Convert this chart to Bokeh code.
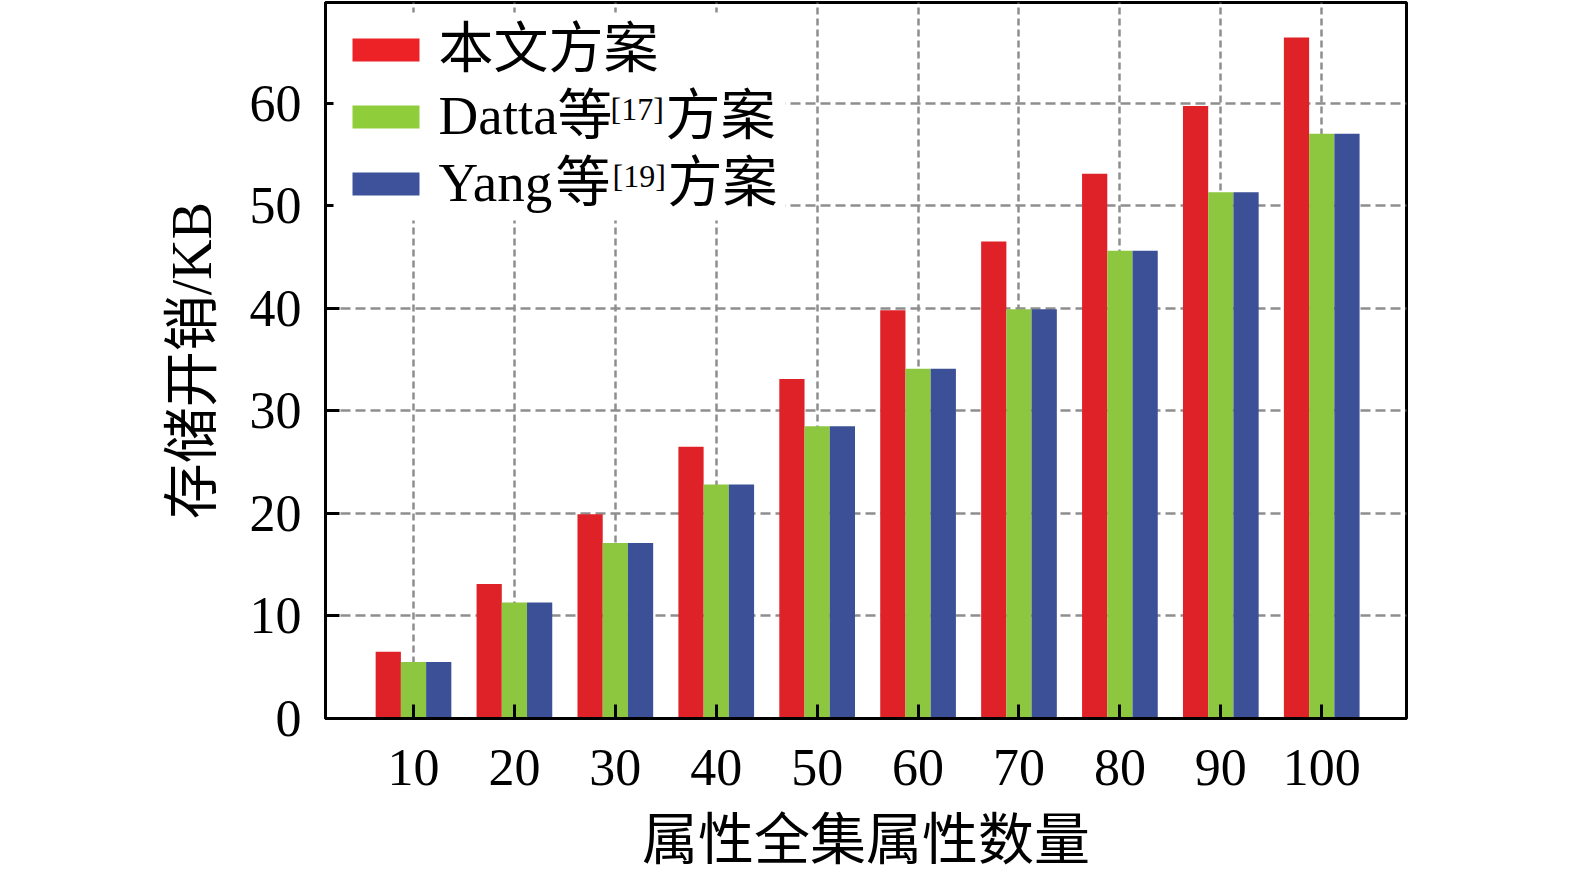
from bokeh.plotting import figure
from bokeh.models import ColumnDataSource, Range1d, FixedTicker, Label, BoxAnnotation
from bokeh.transform import dodge
from bokeh.embed import file_html
from bokeh.resources import INLINE

# ---- data ----
attr_counts = [10, 20, 30, 40, 50, 60, 70, 80, 90, 100]
ours = [6.5, 13.1, 19.9, 26.5, 33.1, 39.8, 46.5, 53.1, 59.7, 66.4]
datta = [5.5, 11.3, 17.1, 22.8, 28.5, 34.1, 39.9, 45.6, 51.3, 57.0]
yang = [5.5, 11.3, 17.1, 22.8, 28.5, 34.1, 39.9, 45.6, 51.3, 57.0]
series_latin = ["", "Datta", "Yang"]
series_cjk = ["本文方案", "等", "等"]
series_refs = ["", "[17]", "[19]"]
series_tail = ["", "方案", "方案"]
y_ticks = [0, 10, 20, 30, 40, 50, 60]
x_label = "属性全集属性数量"
y_label = "存储开销/KB"

bar_colors = ["#df2228", "#8dc63f", "#3b5097"]
swatch_colors = ["#ec2227", "#8fcd3a", "#3d529b"]

FONT = "Liberation Serif, Noto Sans CJK SC"
SERIF = "Liberation Serif"

src = ColumnDataSource(dict(x=attr_counts, ours=ours, datta=datta, yang=yang))

p = figure(frame_width=1081, frame_height=716,
           x_range=Range1d(1.28, 108.4), y_range=Range1d(0, 69.8),
           output_backend="svg", toolbar_location=None,
           min_border_left=325, min_border_top=2, min_border_right=110,
           min_border_bottom=130, background_fill_color="white",
           border_fill_color="white")

bw = 2.5
for field, off, col in zip(["ours", "datta", "yang"], [-bw, 0.0, bw], bar_colors):
    p.vbar(x=dodge("x", off), top=field, width=bw, bottom=0, source=src,
           fill_color=col, line_color=None)

# axes
p.xaxis.ticker = FixedTicker(ticks=attr_counts)
p.yaxis.ticker = FixedTicker(ticks=y_ticks)
for ax in (p.xaxis, p.yaxis):
    ax.axis_line_width = 3
    ax.axis_line_color = "black"
    ax.major_tick_in = 14
    ax.major_tick_out = 0
    ax.major_tick_line_width = 3
    ax.major_tick_line_color = "black"
    ax.minor_tick_line_color = None
    ax.major_label_text_font = SERIF
    ax.major_label_text_font_size = "52px"
    ax.major_label_text_color = "black"
    ax.axis_label_text_font = FONT
    ax.axis_label_text_font_size = "56px"
    ax.axis_label_text_font_style = "normal"
    ax.axis_label_text_color = "black"

p.xaxis.axis_label = x_label
p.yaxis.axis_label = y_label
p.xaxis.major_label_standoff = 31
p.yaxis.major_label_standoff = 24
p.xaxis.axis_label_standoff = 21
p.yaxis.axis_label_standoff = 24

p.outline_line_color = "black"
p.outline_line_width = 3
p.outline_line_alpha = 1

p.xgrid.grid_line_color = "#8e8e8e"
p.xgrid.grid_line_width = 2.5
p.xgrid.grid_line_dash = "7 4"
p.ygrid.grid_line_color = "#8e8e8e"
p.ygrid.grid_line_width = 2.5
p.ygrid.grid_line_dash = "10 5"

# legend (manual, to allow superscript references)
p.add_layout(BoxAnnotation(left=8, right=460, bottom=498, top=706,
                           left_units="screen", right_units="screen",
                           bottom_units="screen", top_units="screen",
                           fill_color="white", fill_alpha=1.0, line_color=None))

sw_top = [680, 613, 546]
base_y = [670, 603, 536]
cjk_x = [113, 232, 230]
ref_x = [0, 285, 287]
tail_x = [0, 340, 342]
for i in range(3):
    p.add_layout(BoxAnnotation(left=27, right=94, top=sw_top[i], bottom=sw_top[i] - 23,
                               left_units="screen", right_units="screen",
                               bottom_units="screen", top_units="screen",
                               fill_color=swatch_colors[i], fill_alpha=1.0, line_color=None))
    if series_latin[i]:
        p.add_layout(Label(x=113, y=base_y[i], x_units="screen", y_units="screen",
                           text=series_latin[i], text_font=SERIF, text_font_size="55px",
                           text_baseline="alphabetic", text_align="left", text_color="black"))
    p.add_layout(Label(x=cjk_x[i], y=base_y[i], x_units="screen", y_units="screen",
                       text=series_cjk[i], text_font=FONT, text_font_size="55px",
                       text_baseline="alphabetic", text_align="left", text_color="black"))
    if series_refs[i]:
        p.add_layout(Label(x=ref_x[i], y=base_y[i] + 7, x_units="screen", y_units="screen",
                           text=series_refs[i], text_font=SERIF, text_font_size="32px",
                           text_baseline="alphabetic", text_align="left", text_color="black"))
        p.add_layout(Label(x=tail_x[i], y=base_y[i], x_units="screen", y_units="screen",
                           text=series_tail[i], text_font=FONT, text_font_size="55px",
                           text_baseline="alphabetic", text_align="left", text_color="black"))

open("out.html", "w").write(file_html(p, INLINE))
